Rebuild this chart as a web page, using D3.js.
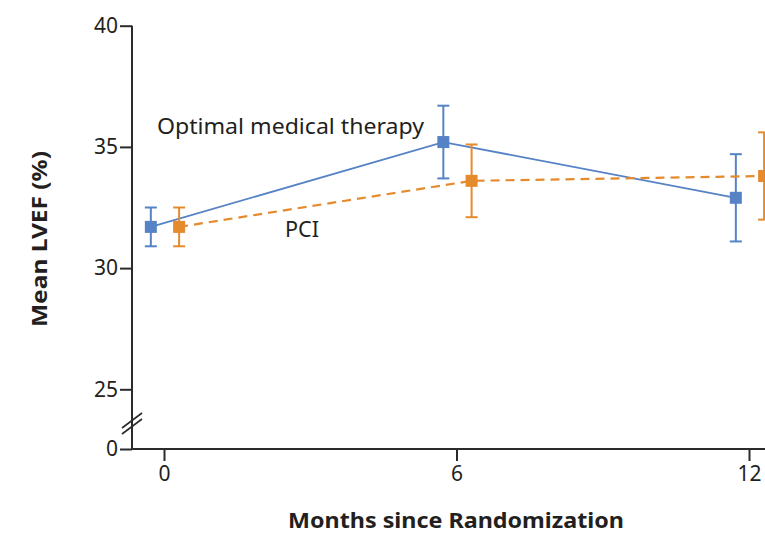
<!DOCTYPE html>
<html>
<head>
<meta charset="utf-8">
<script src="https://cdn.jsdelivr.net/npm/d3@7"></script>
<style>
  html, body { margin: 0; padding: 0; background: #ffffff; }
  svg { display: block; }
  text { font-family: "Noto Sans", "Open Sans", sans-serif; fill: #231f20; }
</style>
</head>
<body>
<svg id="chart" width="765" height="534"></svg>
<script>
// LVEF over follow-up, by treatment group
const months = [0, 6, 12];
const omtMean = [31.7, 35.2, 32.9];
const omtErr = [0.8, 1.5, 1.8];
const pciMean = [31.7, 33.6, 33.8];
const pciErr = [0.8, 1.5, 1.8];
const yTicks = [0, 25, 30, 35, 40];
const xTicks = [0, 6, 12];
const seriesNames = ["Optimal medical therapy", "PCI"];

const blue = "#5683c5";
const orange = "#e58a2d";
const axisColor = "#2b2b2b";

const svg = d3.select("#chart");

// x: months; y: broken axis (0 then 25–40)
const x = d3.scaleLinear().domain([0, 12]).range([164, 749]);
const y = d3.scaleLinear().domain([0, 25, 40]).range([449, 389.3, 25.7]);
const axisLeftX = 132;

// small horizontal dodge so the two groups don't overlap
const dodge = { omt: -0.27, pci: 0.31 };

// Y axis
const yAxis = d3.axisLeft(y).tickValues(yTicks).tickSize(12).tickPadding(2).tickFormat(d3.format("d"));
const gy = svg.append("g").attr("transform", `translate(${axisLeftX},0)`).call(yAxis);
gy.select(".domain").remove();
gy.selectAll(".tick line").attr("stroke", axisColor).attr("stroke-width", 2);
gy.selectAll(".tick text").style("font-size", "21px").attr("fill", "#231f20");
gy.append("line").attr("x1", 0).attr("x2", 0).attr("y1", y(40)).attr("y2", y(0))
  .attr("stroke", axisColor).attr("stroke-width", 2);

// axis break marks
const bk = svg.append("g").attr("stroke", axisColor).attr("stroke-width", 1.6);
[-3, 3].forEach(o => {
  bk.append("line")
    .attr("x1", axisLeftX - 10).attr("y1", 431 + o)
    .attr("x2", axisLeftX + 10).attr("y2", 416 + o);
});

// X axis
const xAxis = d3.axisBottom(x).tickValues(xTicks).tickSize(12).tickPadding(5).tickFormat(d3.format("d"));
const gx = svg.append("g").attr("transform", `translate(0,${y(0)})`).call(xAxis);
gx.select(".domain").remove();
gx.selectAll(".tick line").attr("stroke", axisColor).attr("stroke-width", 2);
gx.selectAll(".tick text").style("font-size", "21px").attr("fill", "#231f20");
gx.append("line").attr("x1", axisLeftX - 1).attr("x2", 765).attr("y1", 0).attr("y2", 0)
  .attr("stroke", axisColor).attr("stroke-width", 2);

// axis titles
svg.append("text")
  .attr("transform", `translate(47,239) rotate(-90)`)
  .attr("text-anchor", "middle")
  .attr("textLength", 176).attr("lengthAdjust", "spacingAndGlyphs")
  .style("font-size", "22px").style("font-weight", "bold")
  .text("Mean LVEF (%)");
svg.append("text")
  .attr("x", 456).attr("y", 528)
  .attr("text-anchor", "middle")
  .attr("textLength", 336).attr("lengthAdjust", "spacingAndGlyphs")
  .style("font-size", "21px").style("font-weight", "bold")
  .text("Months since Randomization");

function drawSeries(means, errs, off, color, dashed) {
  const pts = months.map((m, i) => ({ m, v: means[i], e: errs[i] }));
  const g = svg.append("g");
  g.append("path")
    .datum(pts)
    .attr("fill", "none")
    .attr("stroke", color)
    .attr("stroke-width", dashed ? 2.2 : 1.8)
    .attr("stroke-dasharray", dashed ? "9,6" : null)
    .attr("d", d3.line().x(d => x(d.m + off)).y(d => y(d.v)));
  const eb = g.selectAll(".eb").data(pts).enter().append("g")
    .attr("stroke", color).attr("stroke-width", 2);
  eb.append("line")
    .attr("x1", d => x(d.m + off)).attr("x2", d => x(d.m + off))
    .attr("y1", d => y(d.v + d.e)).attr("y2", d => y(d.v - d.e));
  eb.append("line")
    .attr("x1", d => x(d.m + off) - 6).attr("x2", d => x(d.m + off) + 6)
    .attr("y1", d => y(d.v + d.e)).attr("y2", d => y(d.v + d.e));
  eb.append("line")
    .attr("x1", d => x(d.m + off) - 6).attr("x2", d => x(d.m + off) + 6)
    .attr("y1", d => y(d.v - d.e)).attr("y2", d => y(d.v - d.e));
  g.selectAll(".mk").data(pts).enter().append("rect")
    .attr("x", d => x(d.m + off) - 6).attr("y", d => y(d.v) - 6)
    .attr("width", 12).attr("height", 12)
    .attr("fill", color);
}

drawSeries(omtMean, omtErr, dodge.omt, blue, false);
drawSeries(pciMean, pciErr, dodge.pci, orange, true);

// series labels
svg.append("text").attr("x", 157).attr("y", 134)
  .attr("textLength", 267).attr("lengthAdjust", "spacingAndGlyphs")
  .style("font-size", "21px").text(seriesNames[0]);
svg.append("text").attr("x", 285).attr("y", 237)
  .attr("textLength", 34).attr("lengthAdjust", "spacingAndGlyphs")
  .style("font-size", "21px").text(seriesNames[1]);
</script>
</body>
</html>
